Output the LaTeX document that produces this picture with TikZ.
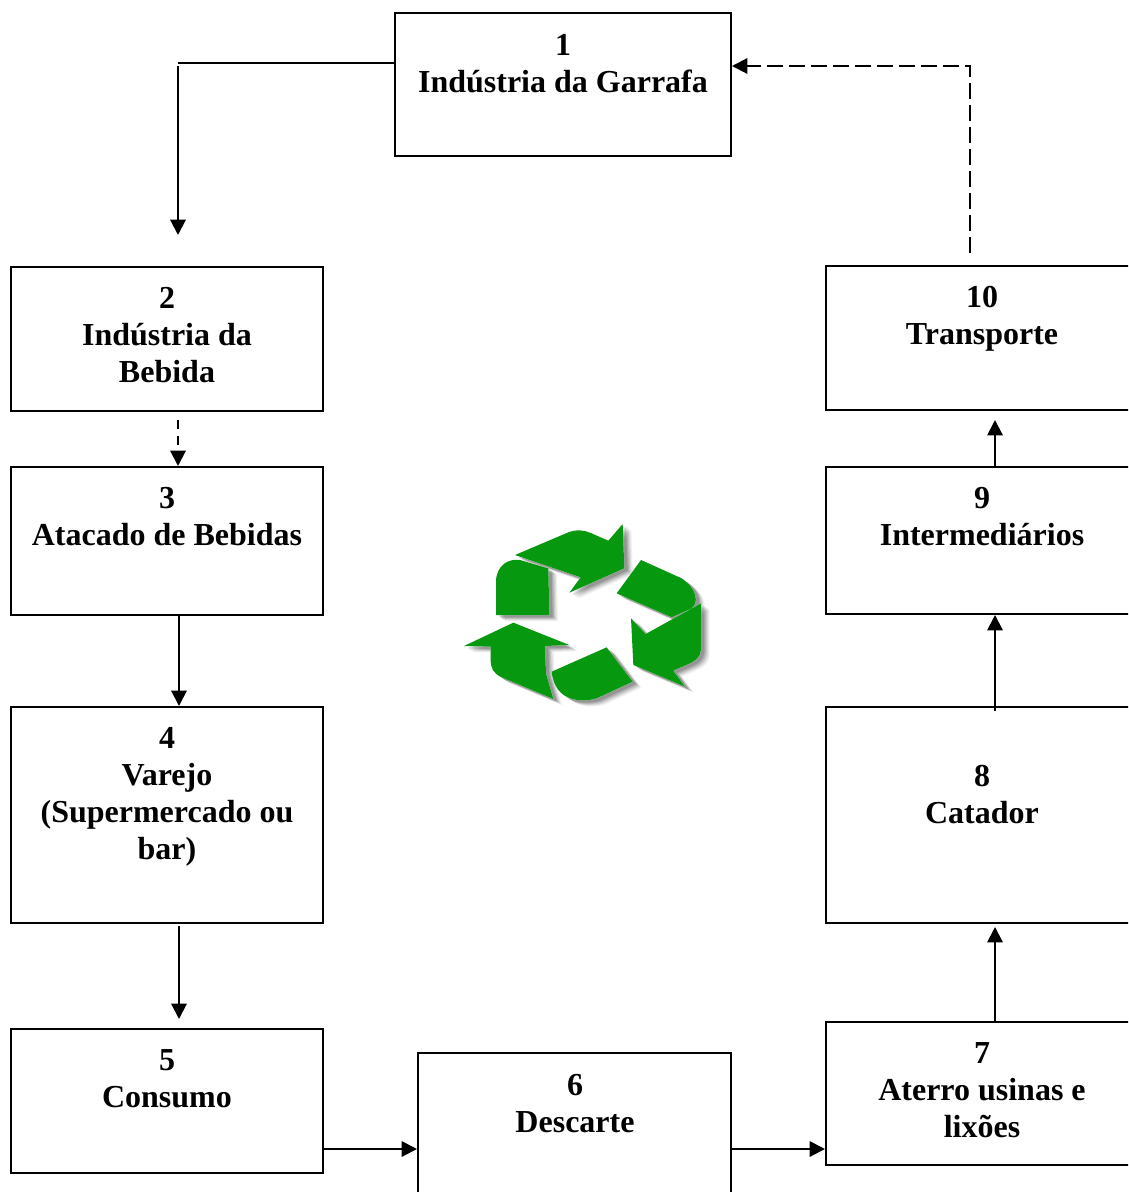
\documentclass[tikz,border=0pt]{standalone}
\usepackage{fontspec}
\setmainfont{Liberation Serif}
\usetikzlibrary{arrows.meta}
\definecolor{recyc}{RGB}{6,152,14}
\tikzset{
  boxnode/.style={draw=black,line width=1.5pt,inner sep=0pt,fill=none},
  lbl/.style={anchor=north,inner sep=0pt,align=center,font=\fontsize{24}{27.75}\selectfont\bfseries},
  conn/.style={line width=1.5pt,-{Triangle[length=11.5pt,width=11.5pt]}},
  plainline/.style={line width=1.5pt},
  dashA/.style={conn,dash pattern=on 12pt off 4.5pt},
  dashB/.style={conn,dash pattern=on 7pt off 5pt}
}
% #1 name, #2 x0, #3 y0, #4 x1, #5 y1
\newcommand{\mkbox}[5]{%
  \path let \n1={(#2+#4)/2},\n2={(#3+#5)/2},\n3={(#4-#2)*0.75pt},\n4={(#5-#3)*0.75pt} in
    node[boxnode,minimum width=\n3,minimum height=\n4] (#1) at (\n1,\n2) {};}
\newcommand{\logoshapes}[1]{%
  \fill[#1] (225,165) -- (385,97) .. controls (410,88) and (430,90) .. (450,98) -- (505,122) -- (548,72) -- (553,205) -- (388,278) -- (422,232) -- cycle;
  \fill[#1] (168,345) -- (168,240) .. controls (172,195) and (205,175) .. (240,180) -- (325,205) -- (328,345) -- cycle;
  \fill[#1] (603,180) -- (530,280) -- (695,352) -- (755,325) .. controls (775,310) and (775,270) .. (725,235) -- cycle;
  \fill[#1] (783,310) -- (783,450) .. controls (780,470) and (770,480) .. (750,490) -- (700,512) -- (735,560) -- (580,495) -- (573,355) -- (617,402) -- cycle;
  \fill[#1] (500,442) -- (578,545) -- (470,595) .. controls (430,607) and (345,610) .. (335,515) -- cycle;
  \fill[#1] (72,438) -- (220,368) -- (388,435) -- (315,438) -- (318,520) -- (340,597) -- (185,532) .. controls (160,520) and (152,505) .. (152,480) -- (152,440) -- cycle;
}
\usetikzlibrary{calc}
\begin{document}
\begin{tikzpicture}[x=0.75pt,y=-0.75pt]
\useasboundingbox (0,0) rectangle (1128,1192);
\clip (0,0) rectangle (1128,1192);
% logo
\begin{scope}[shift={(440,500)},x=0.25pt,y=-0.25pt]
  \foreach \d/\o in {26/0.06,22/0.08,18/0.10,14/0.12,10/0.14}{
    \begin{scope}[shift={(\d,\d*0.7)}]
      \logoshapes{black,opacity=\o}
    \end{scope}}
  \logoshapes{white}
  \logoshapes{recyc}
\end{scope}
% boxes
\mkbox{b1}{395}{13}{731}{156}
\mkbox{b2}{11}{267}{323}{411}
\mkbox{b3}{11}{467}{323}{615}
\mkbox{b4}{11}{707}{323}{923}
\mkbox{b5}{11}{1029}{323}{1173}
\mkbox{b6}{418}{1053}{731}{1210}
\mkbox{b7}{826}{1022}{1145}{1165}
\mkbox{b8}{826}{707}{1145}{923}
\mkbox{b9}{826}{467}{1145}{614}
\mkbox{b10}{826}{266}{1145}{410}
% labels
\node[lbl] (t1) at (563,29) {\strut 1\\Indústria da Garrafa};
\node[lbl] (t2) at (167,282) {\strut 2\\Indústria da\\Bebida};
\node[lbl] (t3) at (167,482) {\strut 3\\Atacado de Bebidas};
\node[lbl] (t4) at (167,722) {\strut 4\\Varejo\\(Supermercado ou\\bar)};
\node[lbl] (t5) at (167,1044) {\strut 5\\Consumo};
\node[lbl] (t6) at (575,1069) {\strut 6\\Descarte};
\node[lbl] (t7) at (982,1037) {\strut 7\\Aterro usinas e\\lixões};
\node[lbl] (t8) at (982,760) {\strut 8\\Catador};
\node[lbl] (t9) at (982,482) {\strut 9\\Intermediários};
\node[lbl] (t10) at (982,281) {\strut 10\\Transporte};
% free ends
\coordinate (e12) at (178,63);
\coordinate (s12) at (178,66);
\coordinate (t12) at (178,235);
\coordinate (s23) at (178,420);
\coordinate (s34) at (179,614);
\coordinate (s45) at (179,926);
\coordinate (t45) at (179,1019);
\coordinate (s78) at (995,1022);
\coordinate (t78) at (995,927);
\coordinate (s89) at (995,711);
\coordinate (s910) at (995,467);
\coordinate (t910) at (995,420);
\coordinate (s101) at (970,253);
\coordinate (k101) at (970,66);
\coordinate (s56) at (323,1149);
\coordinate (s67) at (731,1149);
% connectors
\draw[plainline] (b1.west |- e12) -- (e12);
\draw[conn] (s12) -- (t12);
\draw[dashB] (s23) -- (s23 |- b3.north);
\draw[conn] (s34) -- (s34 |- b4.north);
\draw[conn] (s45) -- (t45);
\draw[conn] (s56) -- (s56 -| b6.west);
\draw[conn] (s67) -- (s67 -| b7.west);
\draw[conn] (s78) -- (t78);
\draw[conn] (s89) -- (s89 |- b9.south);
\draw[conn] (s910) -- (t910);
\draw[dashA] (s101) -- (k101) -- (k101 -| b1.east);
\end{tikzpicture}
\end{document}
